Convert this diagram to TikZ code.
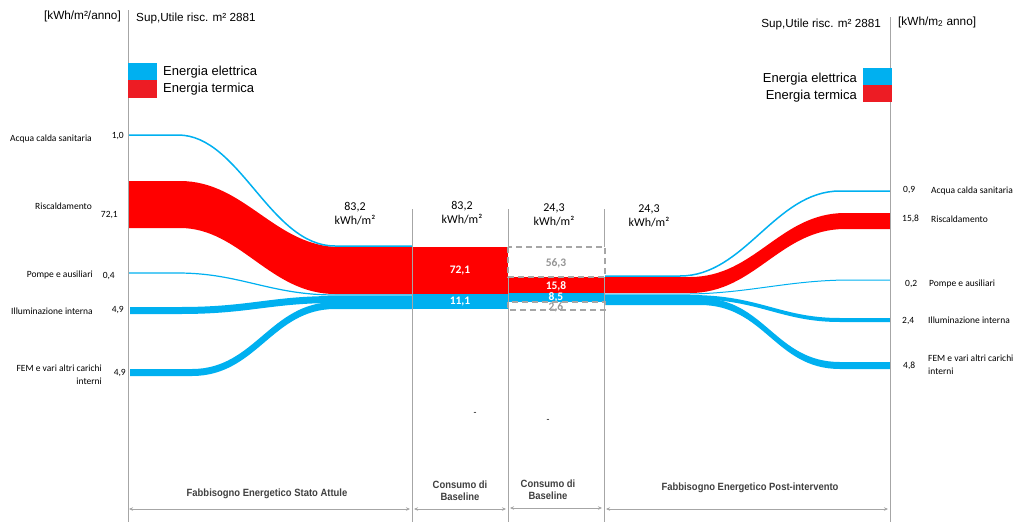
\documentclass[tikz,border=0pt]{standalone}
\usepackage{fontspec}
\setmainfont{Liberation Sans}
\newfontfamily\calib{Carlito}
\newfontfamily\narrowf[FakeStretch=0.9]{Liberation Sans}
\usetikzlibrary{arrows.meta}
\definecolor{elblue}{HTML}{00B0F0}
\definecolor{threde}{HTML}{FF0000}
\definecolor{legred}{HTML}{ED1C24}
\definecolor{axgray}{HTML}{A6A6A6}
\definecolor{txtgray}{HTML}{404040}
\begin{document}
\begin{tikzpicture}[x=1pt,y=-1pt,
    every node/.style={inner sep=0pt},
    axis/.style={axgray,line width=1pt},
    flowlbl/.style={font=\calib\fontsize{9.5}{13}\selectfont},
    hdr/.style={font=\calib\fontsize{12}{14}\selectfont,align=center},
    boxval/.style={font=\calib\bfseries\fontsize{11.5}{12}\selectfont,white},
    ghostval/.style={font=\calib\bfseries\fontsize{11.5}{12}\selectfont,axgray!90!black},
    ghost/.style={axgray,line width=1.6pt,dash pattern=on 6pt off 4pt},
    phase/.style={font=\narrowf\bfseries\fontsize{10.5}{12}\selectfont,txtgray,align=center},
    span/.style={axgray,line width=0.8pt,{Stealth[length=4pt,width=3.5pt]}-{Stealth[length=4pt,width=3.5pt]}},
    legtxt/.style={font=\fontsize{13}{15}\selectfont}]
\useasboundingbox (0,0) rectangle (1016,522);

% flussi stato attuale
\fill[threde] (128,181) -- (180,181) .. controls (245,181) and (275,247) .. (340,247) -- (412,247)
    -- (412,294) -- (335,294) .. controls (270,294) and (240,228) .. (180,228) -- (128,228) -- cycle;
\draw[elblue,line width=1.5pt] (128,135) -- (178,135) .. controls (240,135) and (270,246) .. (335,246) -- (412,246);
\draw[elblue,line width=1.2pt] (128,273) -- (178,273) .. controls (240,273) and (270,295) .. (335,295) -- (412,295);
\fill[elblue] (130,307) -- (180,307) .. controls (250,307) and (270,296) .. (335,296) -- (412,296)
    -- (412,303) -- (335,303) .. controls (270,303) and (250,314) .. (180,314) -- (130,314) -- cycle;
\fill[elblue] (130,369) -- (192,369) .. controls (255,369) and (270,302) .. (335,302) -- (412,302)
    -- (412,309) -- (335,309) .. controls (272,309) and (257,376) .. (192,376) -- (130,376) -- cycle;

% baseline
\fill[threde] (412,247) rectangle (508,294);
\fill[elblue] (412,294) rectangle (508,309);
\fill[threde] (508,277) rectangle (604,293);
\fill[elblue] (508,293) rectangle (604,302);

% flussi post-intervento
\fill[threde] (604,277) -- (690,277) .. controls (755,277) and (780,213) .. (845,213) -- (890,213)
    -- (890,229) -- (845,229) .. controls (780,229) and (755,293) .. (690,293) -- (604,293) -- cycle;
\draw[elblue,line width=1.5pt] (604,276) -- (680,276) .. controls (745,276) and (775,191) .. (840,191) -- (890,191);
\draw[elblue,line width=1pt] (604,294) -- (690,294) .. controls (750,293) and (790,280) .. (850,280) -- (890,280);
\fill[elblue] (604,295) -- (690,295) .. controls (760,295) and (780,318) .. (840,318) -- (890,318)
    -- (890,322) -- (840,322) .. controls (780,322) and (760,299) .. (690,299) -- (604,299) -- cycle;
\fill[elblue] (604,298) -- (700,298) .. controls (765,298) and (775,362) .. (840,362) -- (890,362)
    -- (890,369) -- (840,369) .. controls (775,369) and (765,305) .. (700,305) -- (604,305) -- cycle;

% assi
\draw[axis] (128,10) -- (128,522);
\draw[axis] (412,209) -- (412,522);
\draw[axis] (508,209) -- (508,522);
\draw[axis] (604,209) -- (604,522);
\draw[axis] (890,17) -- (890,522);

% valori nei blocchi
\node[boxval] (v721) at (460,271) {72,1};
\node[boxval] (v111) at (460,302) {11,1};
\draw[ghost,fill=white] (508,247) rectangle (605,277);
\node[ghostval] (v563) at (556,263) {56,3};
\node[boxval] (v158) at (556,286) {15,8};
\node[boxval] (v85) at (556,297) {8,5};
\node[ghostval] (v26) at (556,307) {2,6};
\draw[ghost] (508,302) rectangle (605,310);

% intestazioni
\node[anchor=east,font=\fontsize{11.8}{13}\selectfont] (unitL) at (121,16) {[kWh/m²/anno]};
\node[anchor=west,font=\fontsize{11.7}{13}\selectfont] (supL) at (136,18) {Sup,Utile risc. m² 2881};
\node[anchor=east,font=\fontsize{11.7}{13}\selectfont] (supR) at (881,24) {Sup,Utile risc. m² 2881};
\node[anchor=west,font=\fontsize{11.8}{13}\selectfont] (unitR) at (898,22) {[kWh/m\textsubscript{2} anno]};
\node[hdr] (h1) at (355,214) {83,2\\kWh/m²};
\node[hdr] (h2) at (462,213) {83,2\\kWh/m²};
\node[hdr] (h3) at (554,215) {24,3\\kWh/m²};
\node[hdr] (h4) at (649,216) {24,3\\kWh/m²};

% legende
\fill[elblue] (128,63) rectangle (157,80);
\fill[legred] (128,80) rectangle (157,98);
\node[legtxt,anchor=west] (legEl) at (163,72) {Energia elettrica};
\node[legtxt,anchor=west] (legTh) at (163,89) {Energia termica};
\fill[elblue] (863,68) rectangle (892,85);
\fill[legred] (863,85) rectangle (892,102);
\node[legtxt,anchor=east] (legElR) at (857,79) {Energia elettrica};
\node[legtxt,anchor=east] (legThR) at (857,96) {Energia termica};

% etichette sinistra
\node[flowlbl,anchor=east] (acsL) at (92,139) {Acqua calda sanitaria};
\node[flowlbl,anchor=east] (riscL) at (92,206) {Riscaldamento};
\node[flowlbl,anchor=east] (pompL) at (93,275) {Pompe e ausiliari};
\node[flowlbl,anchor=east] (illL) at (93,311) {Illuminazione interna};
\node[flowlbl,anchor=east,align=right] (femL) at (102,375) {FEM e vari altri carichi\\interni};
\node[flowlbl,anchor=east] (acsLv) at (124,136) {1,0};
\node[flowlbl,anchor=east] (riscLv) at (118,215) {72,1};
\node[flowlbl,anchor=east] (pompLv) at (115,276) {0,4};
\node[flowlbl,anchor=east] (illLv) at (124,310) {4,9};
\node[flowlbl,anchor=east] (femLv) at (126,373) {4,9};

% etichette destra
\node[flowlbl,anchor=west] (acsRv) at (903,190) {0,9};
\node[flowlbl,anchor=west] (riscRv) at (902,219) {15,8};
\node[flowlbl,anchor=west] (pompRv) at (905,284) {0,2};
\node[flowlbl,anchor=west] (illRv) at (902,321) {2,4};
\node[flowlbl,anchor=west] (femRv) at (903,366) {4,8};
\node[flowlbl,anchor=west] (acsR) at (931,191) {Acqua calda sanitaria};
\node[flowlbl,anchor=west] (riscR) at (931,219) {Riscaldamento};
\node[flowlbl,anchor=west] (pompR) at (929,284) {Pompe e ausiliari};
\node[flowlbl,anchor=west] (illR) at (928,320) {Illuminazione interna};
\node[flowlbl,anchor=west,align=left] (femR) at (928,365) {FEM e vari altri carichi\\interni};

\node[flowlbl] (dash1) at (475,414) {-};
\node[flowlbl] (dash2) at (548,421) {-};

% fasi
\node[phase] (fase1) at (267,494) {Fabbisogno Energetico Stato Attule};
\node[phase] (fase2) at (460,491) {Consumo di\\Baseline};
\node[phase] (fase3) at (548,490) {Consumo di\\Baseline};
\node[phase] (fase4) at (750,488) {Fabbisogno Energetico Post-intervento};
\coordinate (a0) at (129,509);
\coordinate (a1) at (410,509);
\coordinate (b0) at (414,509);
\coordinate (b1) at (506,509);
\coordinate (c0) at (510,508);
\coordinate (c1) at (602,508);
\coordinate (d0) at (606,509);
\coordinate (d1) at (888,509);
\draw[span] (a0) -- (a1);
\draw[span] (b0) -- (b1);
\draw[span] (c0) -- (c1);
\draw[span] (d0) -- (d1);
\end{tikzpicture}
\end{document}
